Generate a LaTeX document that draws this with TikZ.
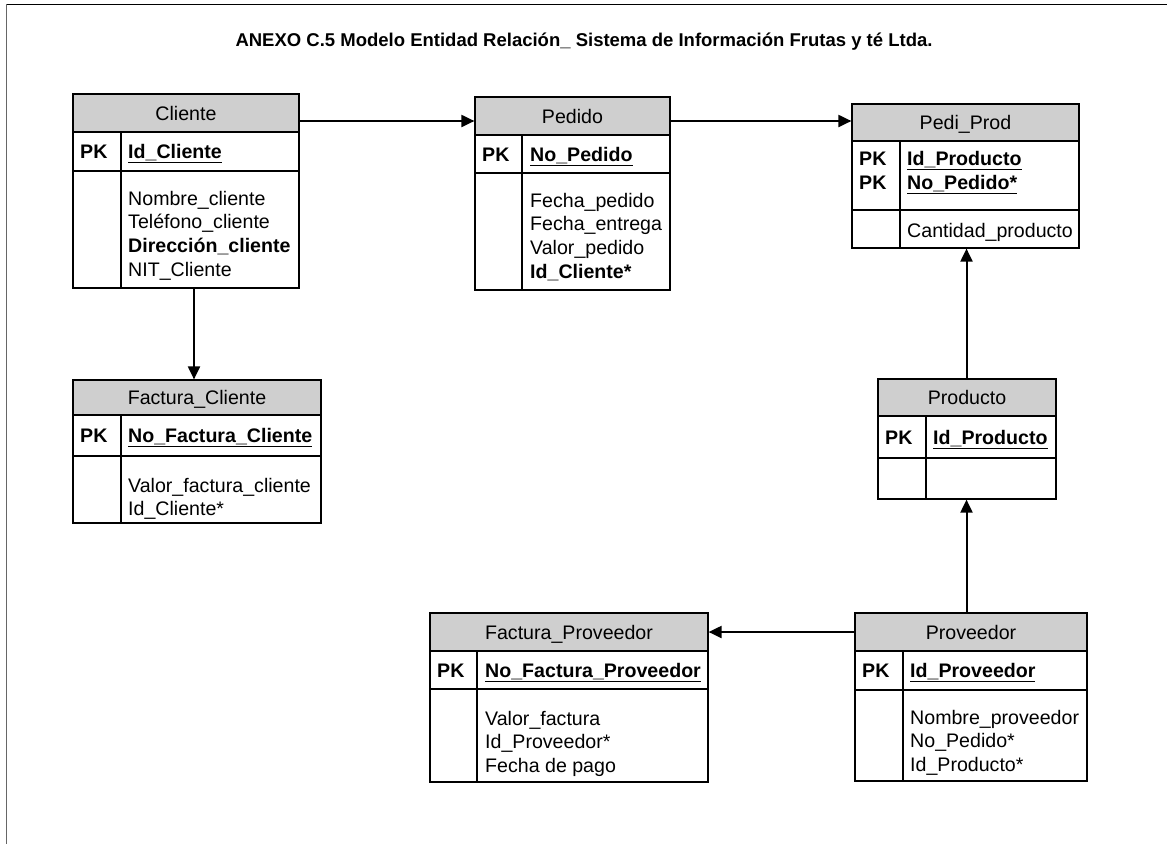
\documentclass[tikz,border=0pt]{standalone}
\usepackage{fontspec}
\setmainfont{Liberation Sans}
\usetikzlibrary{arrows.meta,fit}

\tikzset{
  x=1pt, y=-1pt,
  rule/.style={line width=1.2pt},
  hdr/.style={rule, draw=black, fill=black!19, inner sep=0pt},
  cell/.style={rule, draw=black, inner sep=0pt},
  txt/.style={inner sep=0pt, font=\fontsize{19.6}{24}\selectfont},
  pk/.style={txt, font=\fontsize{19.6}{24}\selectfont\bfseries},
  link/.style={line width=2pt, -{Triangle[length=13pt,width=12pt]}},
}

% one table: #1 name, #2 left, #3 top, #4 right, #5 header bottom,
% #6 key row bottom, #7 bottom, #8 divider x, #9 title
\newcommand\entity[9]{%
  \node[hdr, fit={(#2,#3) (#4,#5)}] (#1-h) {};
  \node[txt, anchor=base] (#1-t) at ([yshift=-7.3pt]#1-h.center) {#9};
  \node[cell, fit={(#2,#5) (#4,#6)}] (#1-k) {};
  \node[cell, fit={(#2,#6) (#4,#7)}] (#1-a) {};
  \draw[rule] (#8,#5) -- (#8,#7);
}
% attribute lines: #1 name, #2 x, #3 first baseline, #4 list
\newcommand\fields[4]{%
  \foreach \t [count=\i from 0] in {#4}
    {\node[txt, anchor=base west] (#1-f\i) at (#2,{#3+\i*23.7}) {\t};}
}
\newcommand\keyf[1]{\underline{\textbf{#1}}}

\begin{document}
\begin{tikzpicture}
\useasboundingbox (0,0) rectangle (1167,844);

% page frame
\draw[line width=1.5pt] (6,4.5) -- (1167,4.5);
\draw[line width=1.8pt, black!60] (6.5,4) -- (6.5,844);

\node[font=\fontsize{18.5}{22}\selectfont\bfseries] (title) at (584,42)
  {ANEXO C.5 Modelo Entidad Relación\_ Sistema de Información Frutas y té Ltda.};

% Cliente
\entity{cli}{73}{94}{299}{132}{171}{288}{121}{Cliente}
\node[pk, anchor=base west] (cli-pk) at (80,158.8) {PK};
\node[txt, anchor=base west] (cli-id) at (128,158.8) {\keyf{Id\_Cliente}};
\fields{cli}{128}{205}{Nombre\_cliente, Teléfono\_cliente, \textbf{Dirección\_cliente}, NIT\_Cliente}

% Pedido
\entity{ped}{475}{97}{670}{135}{173}{290}{522}{Pedido}
\node[pk, anchor=base west] (ped-pk) at (482,161.3) {PK};
\node[txt, anchor=base west] (ped-id) at (530,161.3) {\keyf{No\_Pedido}};
\fields{ped}{530}{207}{Fecha\_pedido, Fecha\_entrega, Valor\_pedido, \textbf{Id\_Cliente*}}

% Pedi_Prod
\entity{pp}{852}{104}{1079}{141}{210}{248}{900}{Pedi\_Prod}
\node[pk, anchor=base west] (pp-pk1) at (859,165.5) {PK};
\node[pk, anchor=base west] (pp-pk2) at (859,189) {PK};
\node[txt, anchor=base west] (pp-id1) at (907,165.5) {\keyf{Id\_Producto}};
\node[txt, anchor=base west] (pp-id2) at (907,189) {\keyf{No\_Pedido*}};
\fields{pp}{907}{237}{Cantidad\_producto}

% Factura_Cliente
\entity{fc}{73}{380}{321}{415}{456}{523}{121}{Factura\_Cliente}
\node[pk, anchor=base west] (fc-pk) at (80,442.8) {PK};
\node[txt, anchor=base west] (fc-id) at (128,442.8) {\keyf{No\_Factura\_Cliente}};
\fields{fc}{128}{492}{Valor\_factura\_cliente, Id\_Cliente*}

% Producto
\entity{prod}{878}{379}{1056}{416}{458}{499}{926}{Producto}
\node[pk, anchor=base west] (prod-pk) at (885,444.3) {PK};
\node[txt, anchor=base west] (prod-id) at (933,444.3) {\keyf{Id\_Producto}};

% Factura_Proveedor
\entity{fp}{430}{613}{708}{651}{689}{782}{477}{Factura\_Proveedor}
\node[pk, anchor=base west] (fp-pk) at (437,677.3) {PK};
\node[txt, anchor=base west] (fp-id) at (485,677.3) {\keyf{No\_Factura\_Proveedor}};
\fields{fp}{485}{725}{Valor\_factura, Id\_Proveedor*, Fecha de pago}

% Proveedor
\entity{prov}{855}{613}{1087}{651}{690}{781}{903}{Proveedor}
\node[pk, anchor=base west] (prov-pk) at (862,677.8) {PK};
\node[txt, anchor=base west] (prov-id) at (910,677.8) {\keyf{Id\_Proveedor}};
\fields{prov}{910}{724}{Nombre\_proveedor, No\_Pedido*, Id\_Producto*}

% relationships
\coordinate (yA) at (0,121);
\coordinate (yB) at (0,632);
\coordinate (xA) at (194,0);
\coordinate (xB) at (966.5,0);
\draw[link] (cli-h.east |- yA) -- (ped-h.west |- yA);
\draw[link] (ped-h.east |- yA) -- (pp-h.west |- yA);
\draw[link] (cli-a.south -| xA) -- (fc-h.north -| xA);
\draw[link] (prod-h.north -| xB) -- (pp-a.south -| xB);
\draw[link] (prov-h.north -| xB) -- (prod-a.south -| xB);
\draw[link] (prov-h.west |- yB) -- (fp-h.east |- yB);
\end{tikzpicture}
\end{document}
